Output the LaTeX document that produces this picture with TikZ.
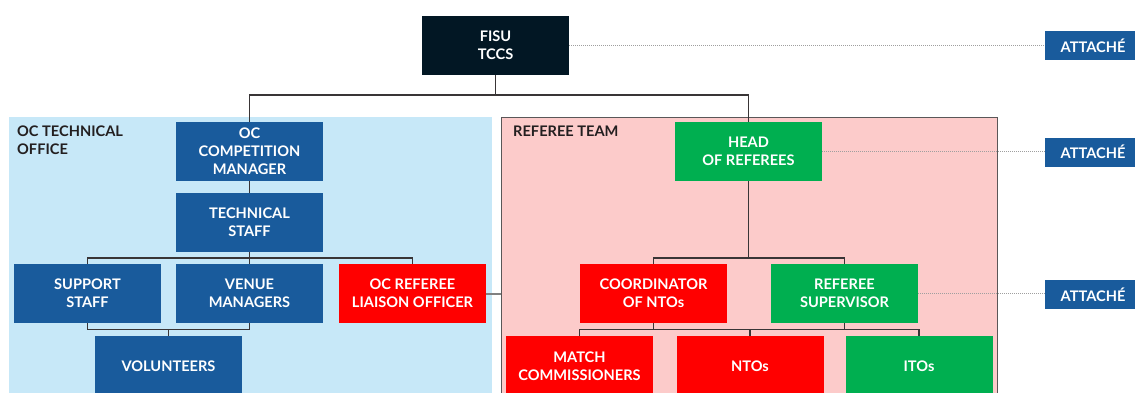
\documentclass[tikz,border=0pt]{standalone}
\usepackage{fontspec}
\setmainfont{Lato}
\definecolor{navy}{HTML}{021724}
\definecolor{oblue}{HTML}{195B9C}
\definecolor{ogreen}{HTML}{00AF50}
\definecolor{ored}{HTML}{FF0000}
\definecolor{lblue}{HTML}{C7E8F8}
\definecolor{lpink}{HTML}{FCCBCA}
\definecolor{ink}{HTML}{231F20}
\tikzset{
  box/.style={minimum width=147pt, minimum height=59pt, inner sep=0pt, text=white, align=center,
    font=\bfseries\fontsize{14.6}{17.8}\selectfont},
  bluebox/.style={box, fill=oblue},
  greenbox/.style={box, fill=ogreen},
  redbox/.style={box, fill=ored},
  attbox/.style={minimum width=96pt, minimum height=29pt, inner sep=0pt, fill=oblue, text=white,
    font=\bfseries\fontsize{14.6}{16}\selectfont},
  conn/.style={draw=ink!90, line width=1.1pt},
  dots/.style={draw=gray!75, line width=1pt, densely dotted},
  grouplabel/.style={anchor=north west, inner sep=0pt, align=left, text=ink,
    font=\bfseries\fontsize{14.6}{17.8}\selectfont},
}
\begin{document}
\begin{tikzpicture}[x=1pt, y=-1pt]
\useasboundingbox (0,0) rectangle (1135,392);
\clip (0,0) rectangle (1135,392);
% regions
\node[fill=lblue, minimum width=483pt, minimum height=285pt, anchor=north west, inner sep=0pt] (octo) at (9,117) {};
\node[fill=lpink, draw=ink!75, line width=1.3pt, minimum width=496pt, minimum height=285pt, anchor=north west, inner sep=0pt] (refteam) at (501,117) {};
\node[grouplabel] (octolabel) at (17,126) {OC TECHNICAL\\OFFICE};
\node[grouplabel] (reflabel) at (513,126) {REFEREE TEAM};
% nodes
\node[box, fill=navy] (fisu) at (495.5,45.5) {FISU\\TCCS};
\node[bluebox] (ocm) at (249.5,151.5) {OC\\COMPETITION\\MANAGER};
\node[bluebox] (ts) at (249.5,222.5) {TECHNICAL\\STAFF};
\node[bluebox] (ss) at (87.5,293.5) {SUPPORT\\STAFF};
\node[bluebox] (vm) at (249.5,293.5) {VENUE\\MANAGERS};
\node[redbox] (lo) at (412.5,293.5) {OC REFEREE\\LIAISON OFFICER};
\node[bluebox, minimum height=60pt] (vol) at (168.5,366) {VOLUNTEERS};
\node[greenbox] (hor) at (748.5,151.5) {HEAD\\OF REFEREES};
\node[redbox] (cno) at (653.5,293.5) {COORDINATOR\\OF NTOs};
\node[greenbox] (rs) at (844.5,293.5) {REFEREE\\SUPERVISOR};
\node[redbox, minimum height=60pt] (mc) at (579.5,366) {MATCH\\COMMISSIONERS};
\node[redbox, minimum height=60pt] (nto) at (750,366) {NTOs};
\node[greenbox, minimum height=60pt] (ito) at (919,366) {ITOs};
\node[attbox] (att1) at (1093,45.5) {ATTACHÉ};
\node[attbox] (att2) at (1093,152) {ATTACHÉ};
\node[attbox] (att3) at (1093,294.5) {ATTACHÉ};
% junctions
\coordinate (top) at (495.5,95);
\coordinate (tsj) at (249.5,258);
\coordinate (volj) at (168.5,329.5);
\coordinate (horj) at (748.5,258);
\coordinate (rj) at (750,329.5);
% connectors
\draw[conn] (fisu.south) -- (top);
\draw[conn] (ocm.north) |- (top) -| (hor.north);
\draw[conn] (ocm.south) -- (ts.north);
\draw[conn] (ts.south) -- (vm.north);
\draw[conn] (ss.north) |- (tsj) -| (lo.north);
\draw[conn] (ss.south) |- (volj) -| (vm.south);
\draw[conn] (volj) -- (vol.north);
\draw[conn] (hor.south) -- (horj);
\draw[conn] (cno.north) |- (horj) -| (rs.north);
\draw[conn] (mc.north) |- (rj) -| (ito.north);
\draw[conn] (cno.south) -- (cno.south |- rj);
\draw[conn] (rs.south) -- (rs.south |- rj);
\draw[conn] (rj) -- (nto.north);
\draw[draw=gray, line width=2pt] (lo.east) -- (refteam.west |- lo.east);
\draw[dots] (fisu.east) -- (att1.west);
\draw[dots] (hor.east) -- (att2.west |- hor.east);
\draw[dots] (rs.east) -- (att3.west |- rs.east);
\end{tikzpicture}
\end{document}
